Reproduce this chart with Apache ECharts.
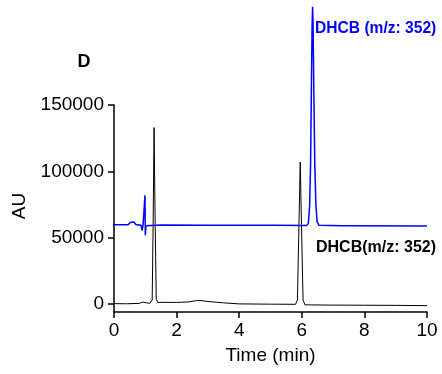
<!DOCTYPE html>
<html>
<head>
<meta charset="utf-8">
<script src="https://cdn.jsdelivr.net/npm/echarts@6/dist/echarts.min.js"></script>
<style>html,body{margin:0;padding:0;background:#fff}#c{width:442px;height:374px}</style>
</head>
<body>
<div id="c"></div>
<script>
var xTicks = [0, 2, 4, 6, 8, 10];
var yTicks = [0, 50000, 100000, 150000];
var blackName = 'DHCB(m/z: 352)';
var blueName = 'DHCB (m/z: 352)';
var blackTrace = [
  [0, 300], [0.4, 200], [0.8, 500], [0.92, 1500], [0.97, 1900], [1.03, 900], [1.15, 600],
  [1.22, 3000], [1.25, 60000], [1.28, 133000], [1.31, 70000], [1.35, 3500], [1.4, 1200],
  [1.45, 1700], [1.6, 1300], [2.0, 1200], [2.4, 1600], [2.6, 2500], [2.75, 2700], [3.0, 1900],
  [3.5, 900], [4.0, 100], [5.0, -100], [5.8, -200], [5.86, 3000], [5.91, 60000], [5.95, 107000],
  [5.99, 60000], [6.04, 3000], [6.1, -600], [7, -800], [8, -900], [9, -1000], [10, -1200]
];
var blueTrace = [
  [-0.45, 59600], [0, 59700], [0.45, 59800], [0.52, 61500], [0.58, 62800], [0.64, 61800],
  [0.7, 60000], [0.78, 59500], [0.82, 58000], [0.86, 59500], [0.9, 55600], [0.93, 59700],
  [0.96, 60500], [0.99, 82000], [1.0, 51900], [1.02, 59000], [1.05, 58000], [1.08, 59800],
  [1.5, 59500], [3, 59400], [5.0, 59300], [5.05, 60200], [5.1, 59300], [6.15, 59100],
  [6.21, 60800], [6.25, 73700], [6.28, 104900], [6.305, 159100], [6.33, 211300], [6.345, 224000],
  [6.36, 211300], [6.385, 159100], [6.415, 104900], [6.45, 75000], [6.49, 62000], [6.55, 59300],
  [7.3, 59000], [7.35, 59700], [7.4, 59000], [10, 58900]
];

var chart = echarts.init(document.getElementById('c'));
var FF = 'Liberation Sans, Arial, sans-serif';
var axisFont = { fontFamily: FF, fontSize: 19, color: '#000' };
function plain(v) { return String(v); }
chart.setOption({
  animation: false,
  grid: { left: 114, right: 15, top: 105, bottom: 62 },
  xAxis: {
    type: 'value', min: 0, max: 10, interval: 2,
    name: 'Time (min)', nameLocation: 'middle', nameGap: 34,
    nameTextStyle: axisFont,
    axisLine: { show: true, onZero: false, lineStyle: { color: '#000', width: 1.5 } },
    axisTick: { show: true, length: 6, lineStyle: { color: '#000', width: 1.5 } },
    axisLabel: Object.assign({ margin: 9, customValues: xTicks, formatter: plain }, axisFont),
    splitLine: { show: false }
  },
  yAxis: {
    type: 'value', min: -6000, max: 150000,
    axisLine: { show: true, onZero: false, lineStyle: { color: '#000', width: 1.5 } },
    axisTick: { show: true, length: 6, customValues: yTicks, lineStyle: { color: '#000', width: 1.5 } },
    axisLabel: Object.assign({ margin: 10, customValues: yTicks, formatter: plain }, axisFont),
    splitLine: { show: false }
  },
  series: [
    { name: blackName, type: 'line', data: blackTrace, showSymbol: false, clip: false,
      lineStyle: { color: '#000', width: 1 }, z: 2 },
    { name: blueName, type: 'line', data: blueTrace, showSymbol: false, clip: false,
      lineStyle: { color: '#0000ff', width: 1.5 }, z: 3 }
  ],
  graphic: [
    { type: 'text', x: 84, y: 62, style: { text: 'D', fontFamily: FF, fontSize: 18, fontWeight: 'bold', fill: '#000', textAlign: 'center', textVerticalAlign: 'middle' } },
    { type: 'text', x: 20, y: 206, rotation: Math.PI / 2, style: { text: 'AU', fontFamily: FF, fontSize: 19, fill: '#000', textAlign: 'center', textVerticalAlign: 'middle' } },
    { type: 'text', x: 315, y: 29, style: { text: blueName, fontFamily: FF, fontSize: 15.6, fontWeight: 'bold', fill: '#0000ff', textAlign: 'left', textVerticalAlign: 'middle' } },
    { type: 'text', x: 316, y: 248, style: { text: blackName, fontFamily: FF, fontSize: 16, fontWeight: 'bold', fill: '#000', textAlign: 'left', textVerticalAlign: 'middle' } }
  ]
});
</script>
</body>
</html>
